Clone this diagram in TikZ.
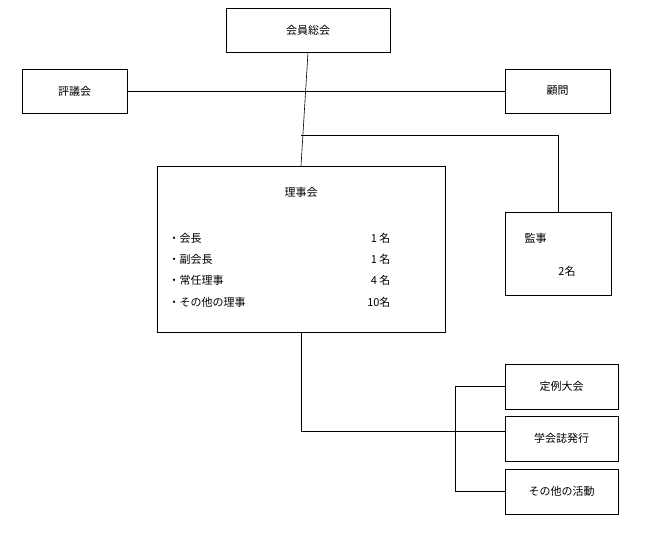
\documentclass[tikz,border=0pt]{standalone}
\usepackage{fontspec}
\setmainfont{Noto Sans CJK JP}
\begin{document}
\begin{tikzpicture}[x=1pt,y=-1pt,font=\fontsize{11}{13}\selectfont,
  box/.style={draw,fill=white,inner sep=0pt},
  line/.style={draw,line width=0.6pt}]
\useasboundingbox (0,0) rectangle (658,555);
\node[box,minimum width=164pt,minimum height=44pt] (sokai) at (308,30) {会員総会};
\node[box,minimum width=105pt,minimum height=44pt] (hyogi) at (74.5,91) {評議会};
\node[box,minimum width=105pt,minimum height=44pt] (komon) at (557.5,91) {顧問};
\node[box,minimum width=288pt,minimum height=166pt] (riji) at (301,249) {};
\node[box,minimum width=106pt,minimum height=83pt] (kanji) at (558,253.5) {};
\node[box,minimum width=113pt,minimum height=45pt] (teirei) at (561.5,386.5) {定例大会};
\node[box,minimum width=113pt,minimum height=45pt] (gakkai) at (561.5,438.5) {学会誌発行};
\node[box,minimum width=113pt,minimum height=45pt] (sonota) at (561.5,491.5) {その他の活動};
\node (rt) at (301,192) {理事会};
\node[anchor=west] (i1) at (165,238) {・会長};
\node[anchor=west] (i2) at (165,259) {・副会長};
\node[anchor=west] (i3) at (165,280) {・常任理事};
\node[anchor=west] (i4) at (165,302) {・その他の理事};
\node[anchor=east] (n1) at (394,238) {1 名};
\node[anchor=east] (n2) at (394,259) {1 名};
\node[anchor=east] (n3) at (394,280) {4 名};
\node[anchor=east] (n4) at (394,302) {10名};
\node[anchor=west] (kt) at (521,238) {監事};
\node (kn) at (567,271) {2名};
\coordinate (j1) at (301,91);
\coordinate (j2) at (301,135);
\coordinate (j3) at (301,431);
\coordinate (b1) at (455,386.5);
\coordinate (b2) at (455,491.5);
\draw[line] (sokai.south) -- (riji.north);
\draw[line] (hyogi.east) -- (komon.west);
\draw[line] (j2) -| (kanji.north);
\draw[line] (riji.south) |- (gakkai.west |- j3);
\draw[line] (teirei.west) -- (b1) -- (b2) -- (sonota.west);
\end{tikzpicture}
\end{document}
